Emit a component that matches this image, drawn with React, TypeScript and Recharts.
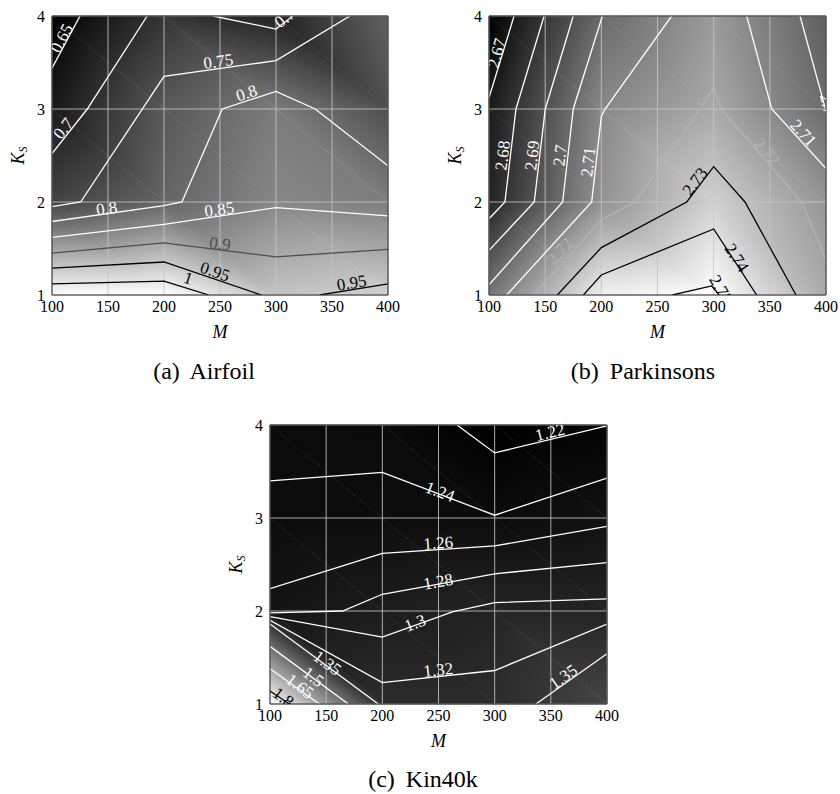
import React from "react";
import {
  CartesianGrid,
  ComposedChart,
  Line,
  ReferenceArea,
  ReferenceDot,
  XAxis,
  YAxis,
} from "recharts";

// grid nodes of the surface
const M_VALUES = [100, 200, 300, 400];
const K_VALUES = [1, 2, 3, 4];
const M_TICKS = [100, 150, 200, 250, 300, 350, 400];
const K_TICKS = [1, 2, 3, 4];

type Pt = [number, number];
type Contour = { level: string; points: Pt[] };
type ContourLabel = { text: string; m: number; k: number; angle: number };

// surface values, one row per K_S (1..4), one column per M (100..400)
const airfoilGrid = [
  [1.036, 1.0375, 0.942, 0.962],
  [0.735, 0.79, 0.844, 0.829],
  [0.668, 0.77, 0.826, 0.755],
  [0.628, 0.7125, 0.682, 0.783],
];

const parkinsonsGrid = [
  [2.7029, 2.7468, 2.752, 2.722],
  [2.6742, 2.7134, 2.7357, 2.7145],
  [2.6707, 2.7098, 2.7215, 2.6996],
  [2.6615, 2.6996, 2.716, 2.6952],
];

const kinGrid = [
  [1.89, 1.3296, 1.328, 1.395],
  [1.2665, 1.2868, 1.3059, 1.3067],
  [1.2415, 1.2427, 1.2409, 1.2554],
  [1.2378, 1.2372, 1.2112, 1.2196],
];

// contour polylines as [M, K_S]
const airfoilContours: Contour[] = [
  { level: "0.65", points: [[100, 3.44], [125, 4]] },
  { level: "0.7", points: [[100, 2.52], [131.5, 3], [185, 4]] },
  { level: "0.7", points: [[244, 4], [300, 3.86], [315, 4]] },
  { level: "0.75", points: [[100, 1.95], [125.6, 2], [200, 3.35], [300, 3.52], [366, 4]] },
  { level: "0.8", points: [[100, 1.79], [200, 1.96], [216, 2], [252, 3], [300, 3.19], [335, 3], [400, 2.39]] },
  { level: "0.85", points: [[100, 1.62], [200, 1.76], [300, 1.94], [400, 1.85]] },
  { level: "0.9", points: [[100, 1.45], [200, 1.56], [300, 1.41], [400, 1.49]] },
  { level: "0.95", points: [[100, 1.29], [200, 1.355], [287, 1]] },
  { level: "0.95", points: [[339, 1], [400, 1.12]] },
  { level: "1", points: [[100, 1.12], [200, 1.15], [240, 1]] },
];

const parkinsonsContours: Contour[] = [
  { level: "2.67", points: [[100, 3.12], [122.3, 4]] },
  { level: "2.68", points: [[100, 1.82], [114.2, 2], [124, 3], [149, 4]] },
  { level: "2.69", points: [[100, 1.48], [140.3, 2], [150.1, 3], [175, 4]] },
  { level: "2.7", points: [[100, 1.11], [165.6, 2], [175, 3], [200.9, 4]] },
  { level: "2.71", points: [[115.7, 1], [191.4, 2], [200, 2.92], [203.3, 3], [262.6, 4]] },
  { level: "2.72", points: [[139.5, 1], [200, 1.81], [230, 2], [287.8, 3], [300, 3.23], [306.5, 3], [378.4, 2], [400, 1.38]] },
  { level: "2.73", points: [[160.8, 1], [200, 1.51], [276, 2], [300, 2.38], [327.9, 2], [373.3, 1]] },
  { level: "2.74", points: [[184, 1], [200, 1.215], [300, 1.71], [338.3, 1]] },
  { level: "2.75", points: [[263.2, 1], [298.2, 1.097], [305, 1]] },
  { level: "2.71", points: [[329.4, 4], [351.7, 3], [400, 2.36]] },
  { level: "2.7", points: [[376.9, 4], [400, 2.98]] },
];

const kinContours: Contour[] = [
  { level: "1.22", points: [[266.5, 4], [300, 3.7], [400, 3.99]] },
  { level: "1.24", points: [[100, 3.4], [200, 3.49], [300, 3.03], [400, 3.43]] },
  { level: "1.26", points: [[100, 2.24], [200, 2.62], [300, 2.7], [400, 2.91]] },
  { level: "1.28", points: [[100, 1.98], [164.6, 2], [200, 2.18], [300, 2.4], [400, 2.52]] },
  { level: "1.3", points: [[100, 1.94], [200, 1.72], [262.4, 1.99], [300, 2.09], [400, 2.13]] },
  { level: "1.32", points: [[100, 1.9], [200, 1.23], [300, 1.36], [400, 1.86]] },
  { level: "1.35", points: [[100, 1.86], [196.4, 1]] },
  { level: "1.35", points: [[336.7, 1], [400, 1.54]] },
  { level: "1.5", points: [[100, 1.62], [169.7, 1]] },
  { level: "1.65", points: [[100, 1.38], [143.9, 1]] },
  { level: "1.8", points: [[100, 1.14], [117.2, 1]] },
];

// inline contour labels: centre in data units, rotation in degrees
const airfoilLabels: ContourLabel[] = [
  { text: "0.65", m: 108.7, k: 3.76, angle: -62 },
  { text: "0.7", m: 110.1, k: 2.79, angle: -51 },
  { text: "0.7", m: 308, k: 3.98, angle: -38 },
  { text: "0.75", m: 248.5, k: 3.51, angle: -8 },
  { text: "0.8", m: 273.8, k: 3.17, angle: -18 },
  { text: "0.8", m: 148.8, k: 1.93, angle: -8 },
  { text: "0.85", m: 249.4, k: 1.92, angle: -8 },
  { text: "0.9", m: 250, k: 1.55, angle: 7 },
  { text: "0.95", m: 245.5, k: 1.25, angle: 19 },
  { text: "1", m: 221.7, k: 1.18, angle: 18 },
  { text: "0.95", m: 367.6, k: 1.13, angle: -9 },
];

const parkinsonsLabels: ContourLabel[] = [
  { text: "2.67", m: 106.9, k: 3.6, angle: -74 },
  { text: "2.68", m: 112.2, k: 2.5, angle: -83 },
  { text: "2.69", m: 138.5, k: 2.5, angle: -83 },
  { text: "2.7", m: 163.2, k: 2.5, angle: -83 },
  { text: "2.71", m: 188.4, k: 2.43, angle: -83 },
  { text: "2.72", m: 163.2, k: 1.47, angle: -47 },
  { text: "2.72", m: 347.2, k: 2.54, angle: 49 },
  { text: "2.71", m: 379.8, k: 2.74, angle: 48 },
  { text: "2.73", m: 283.4, k: 2.22, angle: -53 },
  { text: "2.74", m: 320.5, k: 1.4, angle: 57 },
  { text: "2.75", m: 306.5, k: 1.06, angle: 60 },
  { text: "2.7", m: 401.5, k: 3.05, angle: 76 },
];

const kinLabels: ContourLabel[] = [
  { text: "1.22", m: 349.3, k: 3.92, angle: -13.5 },
  { text: "1.24", m: 251.3, k: 3.28, angle: 21 },
  { text: "1.26", m: 249.8, k: 2.73, angle: -4 },
  { text: "1.28", m: 249.8, k: 2.315, angle: -10 },
  { text: "1.3", m: 229.1, k: 1.87, angle: -20 },
  { text: "1.32", m: 249.8, k: 1.365, angle: -6 },
  { text: "1.35", m: 361.1, k: 1.29, angle: -35 },
  { text: "1.35", m: 151, k: 1.44, angle: 36.5 },
  { text: "1.5", m: 138.6, k: 1.29, angle: 36.5 },
  { text: "1.65", m: 126.7, k: 1.19, angle: 36.5 },
  { text: "1.8", m: 111.8, k: 1.07, angle: 36.5 },
];

// contour colours (anything not listed is white)
const airfoilColors: Record<string, string> = { "0.9": "#4d4d4d", "0.95": "#000", "1": "#000" };
const parkinsonsColors: Record<string, string> = { "2.72": "#b4b4b4", "2.73": "#000", "2.74": "#000", "2.75": "#000" };
const kinColors: Record<string, string> = { "1.8": "#000" };

const FONT = '"Liberation Serif", "DejaVu Serif", "Times New Roman", serif';
const tickStyle = { fontSize: 16, fill: "#000", fontFamily: FONT };

function grayAt(v: number, lo: number, hi: number): string {
  const t = Math.max(0, Math.min(1, (v - lo) / (hi - lo)));
  const g = Math.round(t * 255);
  return `rgb(${g},${g},${g})`;
}

type Vtx = { x: number; y: number; v: number };

/** Gouraud triangle: value is affine inside, so one linear gradient is exact. */
function ShadedTriangle({ pts, lo, hi, id }: { pts: Vtx[]; lo: number; hi: number; id: string }) {
  const [p0, p1, p2] = pts;
  const e1x = p1.x - p0.x, e1y = p1.y - p0.y;
  const e2x = p2.x - p0.x, e2y = p2.y - p0.y;
  const d1 = p1.v - p0.v, d2 = p2.v - p0.v;
  const det = e1x * e2y - e1y * e2x;
  const poly = pts.map((p) => `${p.x},${p.y}`).join(" ");
  if (Math.abs(det) < 1e-9) return null;
  const a = (d1 * e2y - e1y * d2) / det;
  const b = (e1x * d2 - d1 * e2x) / det;
  const g2 = a * a + b * b;
  const vs = pts.map((p) => p.v);
  const vmin = Math.min(...vs);
  const vmax = Math.max(...vs);
  if (g2 < 1e-16 || vmax - vmin < 1e-9) {
    const c = grayAt(vmin, lo, hi);
    return <polygon points={poly} fill={c} stroke={c} strokeWidth={0.6} />;
  }
  const s = pts[vs.indexOf(vmin)];
  const k = (vmax - vmin) / g2;
  return (
    <g>
      <defs>
        <linearGradient id={id} gradientUnits="userSpaceOnUse" x1={s.x} y1={s.y} x2={s.x + a * k} y2={s.y + b * k}>
          <stop offset="0" stopColor={grayAt(vmin, lo, hi)} />
          <stop offset="1" stopColor={grayAt(vmax, lo, hi)} />
        </linearGradient>
      </defs>
      <polygon points={poly} fill={`url(#${id})`} stroke={`url(#${id})`} strokeWidth={0.6} strokeLinejoin="round" />
    </g>
  );
}

function CellShade(props: any) {
  const { x, y, width, height, v, lo, hi, id } = props;
  const left = Math.min(x, x + width);
  const right = Math.max(x, x + width);
  const top = Math.min(y, y + height);
  const bottom = Math.max(y, y + height);
  const bl = { x: left, y: bottom, v: v[0] };
  const br = { x: right, y: bottom, v: v[1] };
  const tl = { x: left, y: top, v: v[2] };
  const tr = { x: right, y: top, v: v[3] };
  return (
    <g>
      <ShadedTriangle pts={[bl, br, tl]} lo={lo} hi={hi} id={`${id}-a`} />
      <ShadedTriangle pts={[br, tr, tl]} lo={lo} hi={hi} id={`${id}-b`} />
    </g>
  );
}

function ContourPanel({
  id,
  grid,
  contours,
  labels,
  colors,
  width,
  height,
  margin,
}: {
  id: string;
  grid: number[][];
  contours: Contour[];
  labels: ContourLabel[];
  colors: Record<string, string>;
  width: number;
  height: number;
  margin: { top: number; right: number; bottom: number; left: number };
}) {
  const flat = grid.flat();
  const lo = Math.min(...flat);
  const hi = Math.max(...flat);
  const cells: { i: number; j: number }[] = [];
  for (let j = 0; j < K_VALUES.length - 1; j++) {
    for (let i = 0; i < M_VALUES.length - 1; i++) cells.push({ i, j });
  }
  const colorOf = (level: string) => colors[level] ?? "#fff";

  return (
    <ComposedChart width={width} height={height} margin={margin} style={{ fontFamily: FONT }}>
      {cells.map(({ i, j }) => (
        <ReferenceArea
          key={`cell-${i}-${j}`}
          x1={M_VALUES[i]}
          x2={M_VALUES[i + 1]}
          y1={K_VALUES[j]}
          y2={K_VALUES[j + 1]}
          ifOverflow="visible"
          zIndex={-200}
          shape={(p: any) => (
            <CellShade
              {...p}
              v={[grid[j][i], grid[j][i + 1], grid[j + 1][i], grid[j + 1][i + 1]]}
              lo={lo}
              hi={hi}
              id={`${id}-${i}-${j}`}
            />
          )}
        />
      ))}
      <CartesianGrid stroke="#c4c4c4" strokeOpacity={0.85} strokeWidth={1} zIndex={-100} />
      <XAxis
        type="number"
        dataKey="m"
        domain={[100, 400]}
        ticks={M_TICKS}
        allowDataOverflow
        height={30}
        tick={tickStyle}
        tickLine={false}
        axisLine={false}
        tickSize={0}
        tickMargin={6}
      />
      <YAxis
        type="number"
        dataKey="k"
        domain={[1, 4]}
        ticks={K_TICKS}
        allowDataOverflow
        width={30}
        tick={tickStyle}
        tickLine={false}
        axisLine={false}
        tickSize={0}
        tickMargin={7}
      />
      {contours.map((c, idx) => (
        <Line
          key={`line-${idx}`}
          data={c.points.map(([m, k]) => ({ m, k }))}
          dataKey="k"
          type="linear"
          stroke={colorOf(c.level)}
          strokeWidth={1.3}
          dot={false}
          activeDot={false}
          isAnimationActive={false}
        />
      ))}
      <ReferenceArea
        x1={100}
        x2={400}
        y1={1}
        y2={4}
        ifOverflow="visible"
        fill="none"
        fillOpacity={0}
        stroke="#2a2a2a"
        strokeWidth={1}
        zIndex={500}
      />
      {labels.map((l, idx) => (
        <ReferenceDot
          key={`lab-${idx}`}
          x={l.m}
          y={l.k}
          ifOverflow="hidden"
          zIndex={600}
          shape={(p: any) => (
            <g clipPath={p.clipPath}>
              <text
                x={p.cx}
                y={p.cy}
                transform={`rotate(${l.angle} ${p.cx} ${p.cy})`}
                textAnchor="middle"
                dominantBaseline="central"
                fontSize={17}
                fontFamily={FONT}
                fill={colorOf(l.text)}
              >
                {l.text}
              </text>
            </g>
          )}
        />
      ))}
    </ComposedChart>
  );
}

function AxisTitles({ plotLeft, plotTop, plotRight, plotBottom }: { plotLeft: number; plotTop: number; plotRight: number; plotBottom: number }) {
  const midY = (plotTop + plotBottom) / 2;
  const midX = (plotLeft + plotRight) / 2;
  return (
    <g style={{ fontFamily: FONT }} fill="#000">
      <text x={midX} y={plotBottom + 42.5} textAnchor="middle" fontSize={18} fontStyle="italic">
        M
      </text>
      <text transform={`translate(${plotLeft - 28},${midY}) rotate(-90)`} textAnchor="middle" fontSize={18} fontStyle="italic">
        <tspan>K</tspan>
        <tspan fontSize={12} dy={3}>S</tspan>
      </text>
    </g>
  );
}

export default function App() {
  return (
    <div style={{ position: "fixed", left: 0, top: 0, width: 840, height: 794, background: "#fff", fontFamily: FONT }}>
      <div style={{ position: "absolute", left: 0, top: 0 }}>
        <ContourPanel
          id="airfoil"
          grid={airfoilGrid}
          contours={airfoilContours}
          labels={airfoilLabels}
          colors={airfoilColors}
          width={400}
          height={340}
          margin={{ top: 16, right: 12, bottom: 15, left: 22 }}
        />
      </div>
      <div style={{ position: "absolute", left: 430, top: 0 }}>
        <ContourPanel
          id="parkinsons"
          grid={parkinsonsGrid}
          contours={parkinsonsContours}
          labels={parkinsonsLabels}
          colors={parkinsonsColors}
          width={410}
          height={340}
          margin={{ top: 16, right: 14, bottom: 15, left: 29 }}
        />
      </div>
      <div style={{ position: "absolute", left: 220, top: 410 }}>
        <ContourPanel
          id="kin40k"
          grid={kinGrid}
          contours={kinContours}
          labels={kinLabels}
          colors={kinColors}
          width={400}
          height={340}
          margin={{ top: 15, right: 13, bottom: 16, left: 20 }}
        />
      </div>
      <svg width={840} height={794} style={{ position: "absolute", left: 0, top: 0, pointerEvents: "none" }}>
        <AxisTitles plotLeft={52} plotTop={16} plotRight={388} plotBottom={295} />
        <AxisTitles plotLeft={489} plotTop={16} plotRight={826} plotBottom={295} />
        <AxisTitles plotLeft={270} plotTop={425} plotRight={607} plotBottom={704} />
        <g style={{ fontFamily: FONT }} fontSize={24} fill="#000" textAnchor="middle">
          <text x={204} y={379}>
            <tspan>(a)</tspan>
            <tspan dx={5}> Airfoil</tspan>
          </text>
          <text x={643} y={379}>
            <tspan>(b)</tspan>
            <tspan dx={5}> Parkinsons</tspan>
          </text>
          <text x={423} y={787}>
            <tspan>(c)</tspan>
            <tspan dx={5}> Kin40k</tspan>
          </text>
        </g>
      </svg>
    </div>
  );
}
